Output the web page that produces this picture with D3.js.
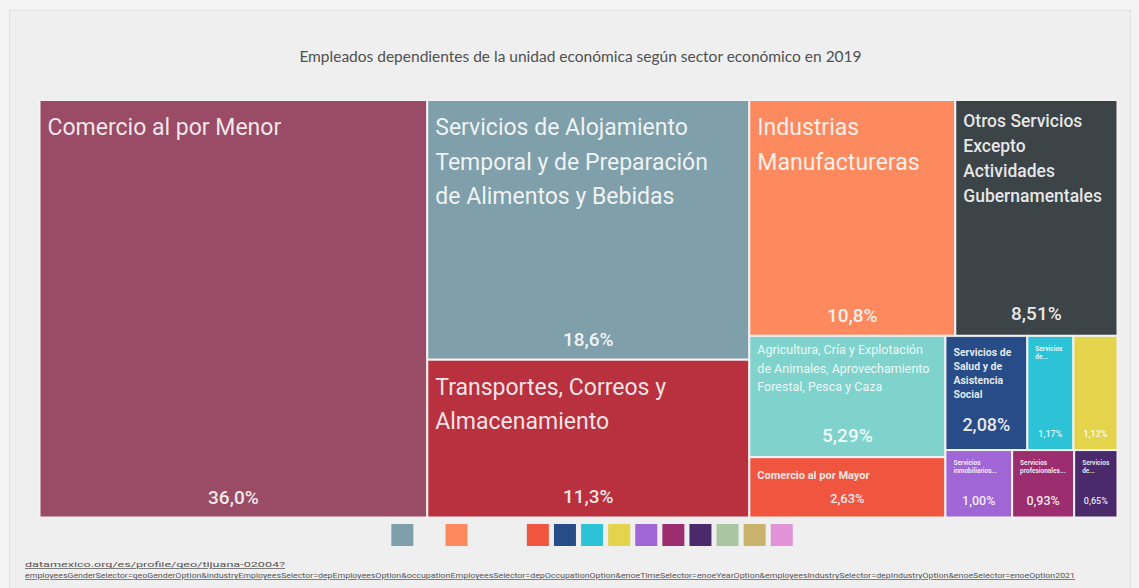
<!DOCTYPE html>
<html>
<head>
<meta charset="utf-8">
<script src="https://cdn.jsdelivr.net/npm/d3@7"></script>
<style>
  html, body { margin: 0; padding: 0; background: #f3f3f3; }
  svg { display: block; font-family: Roboto, Lato, "Open Sans", sans-serif; }
</style>
</head>
<body>
<svg id="chart" width="1139" height="588"></svg>
<script>
// Employment share by economic sector (percent of dependent employees)
const title = "Empleados dependientes de la unidad económica según sector económico en 2019";

const sectors = [
  "Comercio al por Menor",
  "Servicios de Alojamiento Temporal y de Preparación de Alimentos y Bebidas",
  "Transportes, Correos y Almacenamiento",
  "Industrias Manufactureras",
  "Otros Servicios Excepto Actividades Gubernamentales",
  "Agricultura, Cría y Explotación de Animales, Aprovechamiento Forestal, Pesca y Caza",
  "Comercio al por Mayor",
  "Servicios de Salud y de Asistencia Social",
  "Servicios de Apoyo a los Negocios y Manejo de Residuos",
  "Servicios Educativos",
  "Servicios Inmobiliarios y de Alquiler de Bienes Muebles e Intangibles",
  "Servicios Profesionales, Científicos y Técnicos",
  "Servicios de Esparcimiento Culturales y Deportivos"
];

const shares = [36.0, 18.6, 11.3, 10.8, 8.51, 5.29, 2.63, 2.08, 1.17, 1.12, 1.00, 0.93, 0.65];

// Text printed in each tile, one entry per line
const tileLabels = [
  ["Comercio al por Menor"],
  ["Servicios de Alojamiento", "Temporal y de Preparación", "de Alimentos y Bebidas"],
  ["Transportes, Correos y", "Almacenamiento"],
  ["Industrias", "Manufactureras"],
  ["Otros Servicios", "Excepto", "Actividades", "Gubernamentales"],
  ["Agricultura, Cría y Explotación", "de Animales, Aprovechamiento", "Forestal, Pesca y Caza"],
  ["Comercio al por Mayor"],
  ["Servicios de", "Salud y de", "Asistencia", "Social"],
  ["Servicios", "de..."],
  [],
  ["Servicios", "inmobiliarios..."],
  ["Servicios", "profesionales..."],
  ["Servicios", "de..."]
];

// Sectors that only appear in the legend
const legendOnlySectors = ["Construcción", "Información en Medios Masivos", "Servicios Financieros y de Seguros"];

const palette = [
  "#9a4b65", "#7fa0ab", "#b9303f", "#fd8a5e", "#3d4448", "#7fd3cc", "#f0553f",
  "#284c87", "#2cc3d6", "#e3d44c", "#a066d6", "#9c2d6f", "#4b2a6b",
  "#a9c6a3", "#c9b26b", "#e292d6"
];

// Legend slots left empty
const legendBlank = new Set([
  "Comercio al por Menor",
  "Transportes, Correos y Almacenamiento",
  "Otros Servicios Excepto Actividades Gubernamentales",
  "Agricultura, Cría y Explotación de Animales, Aprovechamiento Forestal, Pesca y Caza"
]);

const sourceLines = [
  "datamexico.org/es/profile/geo/tijuana-02004?",
  "employeesGenderSelector=geoGenderOption&industryEmployeesSelector=depEmployeesOption&occupationEmployeesSelector=depOccupationOption&enoeTimeSelector=enoeYearOption&employeesIndustrySelector=depIndustryOption&enoeSelector=enoeOption2021"
];

const box = { x0: 39.5, y0: 100, x1: 1117.5, y1: 517.5 };

const svg = d3.select("#chart");

// card background
svg.append("rect")
  .attr("x", 9.5).attr("y", 10.5).attr("width", 1121).attr("height", 590)
  .attr("fill", "#efefef").attr("stroke", "#e2e2e2");

svg.append("text")
  .attr("x", (box.x0 + box.x1) / 2 + 2).attr("y", 62)
  .attr("text-anchor", "middle")
  .attr("font-family", "Lato, sans-serif")
  .attr("font-size", 15.5).attr("fill", "#505050")
  .text(title);

const locale = d3.formatLocale({ decimal: ",", thousands: ".", grouping: [3], currency: ["", ""] });
const fmtBig = locale.format(".3r"), fmtSmall = locale.format(".2r");
const pct = v => (v >= 1 ? fmtBig(v) : fmtSmall(v)) + "%";

const color = d3.scaleOrdinal()
  .domain(sectors.concat(legendOnlySectors))
  .range(palette);

const rootData = {
  name: "root",
  children: sectors.map((s, i) => ({ name: s, value: shares[i], lines: tileLabels[i] }))
};

const root = d3.hierarchy(rootData)
  .sum(d => d.value || 0)
  .sort((a, b) => b.value - a.value);

d3.treemap()
  .tile(d3.treemapSquarify)
  .size([box.x1 - box.x0, box.y1 - box.y0])
  .round(false)(root);

const g = svg.append("g").attr("transform", `translate(${box.x0},${box.y0})`);

const cell = g.selectAll("g.cell")
  .data(root.leaves())
  .join("g")
  .attr("class", "cell")
  .attr("transform", d => `translate(${d.x0},${d.y0})`);

cell.append("rect")
  .attr("width", d => d.x1 - d.x0)
  .attr("height", d => d.y1 - d.y0)
  .attr("fill", d => color(d.data.name))
  .attr("stroke", "#f4f1f2")
  .attr("stroke-width", 2);

// Label styling picked from the tile's size
function labelStyle(w, h) {
  if (w > 200 && h > 150) return { size: 23, weight: 400, top: 35, lh: 1.5, vsize: 19, vpad: 14 };
  if (w > 150 && h > 150) return { size: 17.5, weight: 500, top: 27, lh: 1.43, vsize: 19, vpad: 16 };
  if (w > 150 && h > 100) return { size: 12.5, weight: 400, top: 18, lh: 1.5, vsize: 19, vpad: 15 };
  if (w > 150) return { size: 11, weight: 700, top: 22, lh: 1.3, vsize: 13, vpad: 14 };
  if (w > 70) return { size: 10.5, weight: 700, top: 20, lh: 1.35, vsize: 18, vpad: 19 };
  if (w > 55) return { size: 6.5, weight: 700, top: 15, lh: 1.25, vsize: 12.5, vpad: 12 };
  return { size: 6.5, weight: 700, top: 15, lh: 1.25, vsize: 9, vpad: 13 };
}

cell.each(function (d) {
  const w = d.x1 - d.x0, h = d.y1 - d.y0;
  const sel = d3.select(this);
  const st = labelStyle(w, h);
  const t = sel.append("text")
    .attr("x", 8)
    .attr("y", st.top)
    .attr("font-size", st.size)
    .attr("font-weight", st.weight)
    .attr("fill", "rgba(255,255,255,0.88)");
  d.data.lines.forEach((line, i) => {
    t.append("tspan").attr("x", 8).attr("dy", i === 0 ? 0 : st.size * st.lh).text(line);
  });

  sel.append("text")
    .attr("x", w / 2)
    .attr("y", h - st.vpad)
    .attr("text-anchor", "middle")
    .attr("font-size", st.vsize)
    .attr("font-weight", 500)
    .attr("fill", "rgba(255,255,255,0.9)")
    .text(pct(d.data.value));
});

// legend swatches
const legendItems = sectors.concat(legendOnlySectors);
const slot = 27.1, sw = 22;
const legendWidth = (legendItems.length - 1) * slot + sw;
const lx0 = (box.x0 + box.x1) / 2 - legendWidth / 2;
svg.append("g")
  .selectAll("rect")
  .data(legendItems.map((name, i) => ({ name, i })).filter(d => !legendBlank.has(d.name)))
  .join("rect")
  .attr("x", d => lx0 + d.i * slot)
  .attr("y", 524)
  .attr("width", sw).attr("height", sw)
  .attr("fill", d => color(d.name));

// source link
const src = svg.append("g").attr("font-size", 7.5).attr("fill", "#555");
[[sourceLines[0], 567, 260], [sourceLines[1], 578, 1050]].forEach(([txt, y, len]) => {
  src.append("text")
    .attr("x", 25).attr("y", y)
    .attr("textLength", len).attr("lengthAdjust", "spacingAndGlyphs")
    .attr("text-decoration", "underline")
    .text(txt);
});
</script>
</body>
</html>
